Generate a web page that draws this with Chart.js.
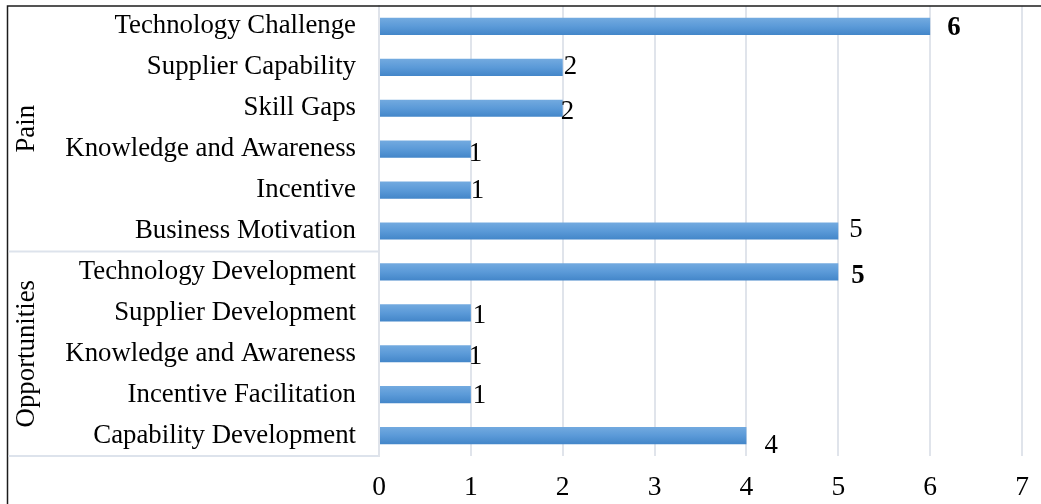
<!DOCTYPE html>
<html>
<head>
<meta charset="utf-8">
<script src="https://cdn.jsdelivr.net/npm/chart.js@4.4.0/dist/chart.umd.min.js"></script>
<style>
  html, body { margin: 0; padding: 0; background: #ffffff; }
  #wrap { width: 1041px; height: 504px; position: relative; }
  canvas { display: block; }
</style>
</head>
<body>
<div id="wrap"><canvas id="c" width="1041" height="504"></canvas></div>
<script>
// ---- data ----
const categories = [
  "Technology Challenge",
  "Supplier Capability",
  "Skill Gaps",
  "Knowledge and Awareness",
  "Incentive",
  "Business Motivation",
  "Technology Development",
  "Supplier Development",
  "Knowledge and Awareness",
  "Incentive Facilitation",
  "Capability Development"
];
const values = [6, 2, 2, 1, 1, 5, 5, 1, 1, 1, 4];
const groupNames = ["Pain", "Opportunities"];
const groupSizes = [6, 5];
const xTicks = [0, 1, 2, 3, 4, 5, 6, 7];

// ---- styling (not data) ----
const FONT = "'Liberation Serif', 'Times New Roman', serif";
const FS = 26.8;
const labelStyle = [
  {dx: 17, dy: 2, bold: true},
  {dx: 1, dy: 0},
  {dx: -2, dy: 4},
  {dx: -2, dy: 5},
  {dx: 0, dy: 1},
  {dx: 11, dy: -1},
  {dx: 13, dy: 4, bold: true},
  {dx: 2, dy: 3},
  {dx: -2, dy: 3},
  {dx: 2, dy: 1},
  {dx: 18, dy: 10}
];

const decorPlugin = {
  id: 'decor',
  afterDraw(chart) {
    const ctx = chart.ctx;
    const area = chart.chartArea;
    ctx.save();
    // frame
    ctx.strokeStyle = '#1c1c1c';
    ctx.lineWidth = 1.5;
    ctx.beginPath();
    ctx.moveTo(7.5, 504);
    ctx.lineTo(7.5, 6);
    ctx.lineTo(1041, 6);
    ctx.stroke();

    // group separators and labels
    const band = (area.bottom - area.top) / categories.length;
    let start = 0;
    ctx.strokeStyle = '#dde3ec';
    ctx.lineWidth = 2;
    groupSizes.forEach((n, gi) => {
      const yTop = area.top + start * band;
      const yBot = area.top + (start + n) * band;
      ctx.beginPath();
      ctx.moveTo(8.5, yBot);
      ctx.lineTo(area.left - 1, yBot);
      ctx.stroke();
      ctx.save();
      ctx.fillStyle = '#000';
      ctx.font = FS + 'px ' + FONT;
      ctx.textAlign = 'center';
      ctx.textBaseline = 'alphabetic';
      ctx.translate(34, (yTop + yBot) / 2);
      ctx.rotate(-Math.PI / 2);
      ctx.fillText(groupNames[gi], 0, 0);
      ctx.restore();
      start += n;
    });

    // value labels
    const meta = chart.getDatasetMeta(0);
    meta.data.forEach((bar, i) => {
      const st = labelStyle[i] || {dx: 4, dy: 0};
      ctx.fillStyle = '#000';
      ctx.font = (st.bold ? 'bold ' : '') + FS + 'px ' + FONT;
      ctx.textAlign = 'left';
      ctx.textBaseline = 'middle';
      ctx.fillText(String(values[i]), bar.x + st.dx, bar.y + st.dy);
    });
    ctx.restore();
  }
};

new Chart(document.getElementById('c'), {
  type: 'bar',
  data: {
    labels: categories,
    datasets: [{
      data: values,
      barPercentage: 0.42,
      categoryPercentage: 1,
      borderWidth: 0,
      backgroundColor: (c) => {
        const chart = c.chart;
        const ys = chart.scales && chart.scales.y;
        if (!ys || c.dataIndex === undefined) return '#5b9bd5';
        const yc = ys.getPixelForValue(c.dataIndex);
        if (!isFinite(yc)) return '#5b9bd5';
        const g = chart.ctx.createLinearGradient(0, yc - 9, 0, yc + 9);
        g.addColorStop(0, '#74abe0');
        g.addColorStop(0.5, '#5b9ad8');
        g.addColorStop(1, '#4285c8');
        return g;
      }
    }]
  },
  options: {
    indexAxis: 'y',
    responsive: false,
    animation: false,
    events: [],
    layout: { padding: { left: 0, top: 6, right: 19, bottom: 0 } },
    plugins: { legend: { display: false }, tooltip: { enabled: false } },
    scales: {
      x: {
        min: 0, max: 7,
        afterBuildTicks(scale) { scale.ticks = xTicks.map(v => ({ value: v })); },
        afterFit(scale) {
          scale.height = 48;
          scale.paddingLeft = 0; scale.paddingRight = 0;
          scale.paddingTop = 0; scale.paddingBottom = 0;
        },
        grid: { color: '#e0e4eb', lineWidth: 2, drawTicks: false },
        border: { display: false },
        ticks: {
          padding: 15,
          color: '#000',
          font: { family: FONT, size: 27.5 }
        }
      },
      y: {
        afterFit(scale) {
          scale.width = 379;
          scale.paddingLeft = 0; scale.paddingRight = 0;
          scale.paddingTop = 0; scale.paddingBottom = 0;
        },
        grid: { display: false, drawTicks: false },
        border: { display: true, color: '#dfe3ea', width: 2 },
        ticks: {
          padding: 23,
          color: '#000',
          autoSkip: false,
          font: { family: FONT, size: FS }
        }
      }
    }
  },
  plugins: [decorPlugin]
});
</script>
</body>
</html>
